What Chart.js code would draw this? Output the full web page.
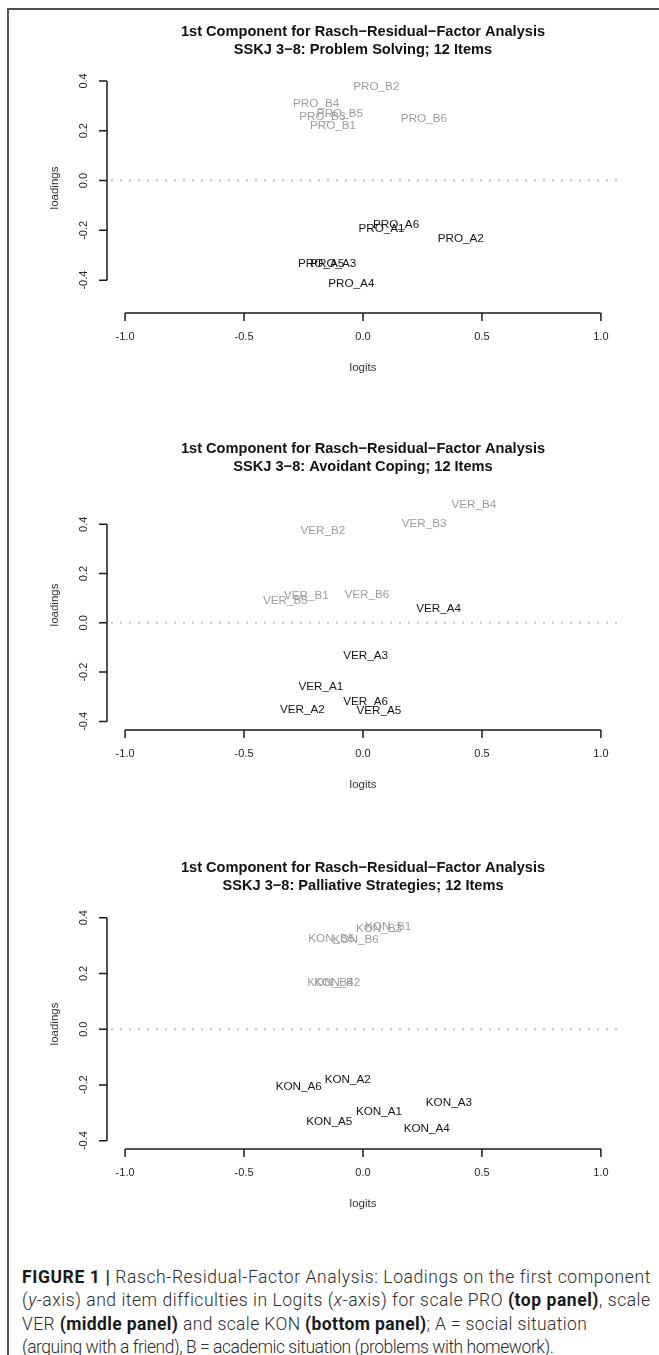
<!DOCTYPE html>
<html>
<head>
<meta charset="utf-8">
<script src="https://cdn.jsdelivr.net/npm/chart.js@4.4.0/dist/chart.umd.min.js"></script>
<style>
  body { margin: 0; background: #fff; }
  #pagina { position: relative; width: 659px; height: 1355px; overflow: hidden; background: #fff; }
  .marco-sup { position: absolute; left: 7px; top: 8px; width: 652px; height: 2px; background: #4d4d4d; }
  .marco-izq { position: absolute; left: 7px; top: 8px; width: 2px; height: 1347px; background: #555; }
  .panel { position: absolute; left: 0; width: 659px; height: 418px; }
  #leyenda {
    position: absolute; left: 22px; top: 1266px; white-space: nowrap;
    font-family: Roboto, "Liberation Sans", sans-serif; font-weight: 300;
    font-size: 17.5px; line-height: 23.3px; color: #2b2b2b;
  }
  #leyenda b { font-weight: 700; color: #1a1a1a; }
  .l1 { letter-spacing: 0.6px; }
  .l2 { letter-spacing: 0.54px; }
  .l3 { letter-spacing: 0.38px; }
  .l4 { letter-spacing: -0.45px; }
</style>
</head>
<body>
<div id="pagina">
  <div class="marco-sup"></div>
  <div class="marco-izq"></div>
  <div class="panel" style="top:0px"><canvas id="graficoPro" width="659" height="418"></canvas></div>
  <div class="panel" style="top:417px"><canvas id="graficoVer" width="659" height="418"></canvas></div>
  <div class="panel" style="top:836px"><canvas id="graficoKon" width="659" height="418"></canvas></div>
  <div id="leyenda">
    <div class="l1"><b>FIGURE 1 |</b> Rasch-Residual-Factor Analysis: Loadings on the first component</div>
    <div class="l2">(<i>y</i>-axis) and item difficulties in Logits (<i>x</i>-axis) for scale PRO <b>(top panel)</b>, scale</div>
    <div class="l3">VER <b>(middle panel)</b> and scale KON <b>(bottom panel)</b>; A = social situation</div>
    <div class="l4">(arguing with a friend), B = academic situation (problems with homework).</div>
  </div>
</div>

<script>
// ---- Datos ----
// PRO: Problem Solving
const proItemsA = ['PRO_A1', 'PRO_A2', 'PRO_A3', 'PRO_A4', 'PRO_A5', 'PRO_A6'];
const proLogitsA = [0.078, 0.411, -0.125, -0.049, -0.176, 0.139];
const proLoadingsA = [-0.194, -0.234, -0.335, -0.414, -0.335, -0.178];
const proItemsB = ['PRO_B1', 'PRO_B2', 'PRO_B3', 'PRO_B4', 'PRO_B5', 'PRO_B6'];
const proLogitsB = [-0.126, 0.056, -0.171, -0.197, -0.097, 0.256];
const proLoadingsB = [0.218, 0.375, 0.257, 0.308, 0.268, 0.248];

// VER: Avoidant Coping
const verItemsA = ['VER_A1', 'VER_A2', 'VER_A3', 'VER_A4', 'VER_A5', 'VER_A6'];
const verLogitsA = [-0.177, -0.255, 0.011, 0.318, 0.067, 0.011];
const verLoadingsA = [-0.260, -0.351, -0.135, 0.058, -0.355, -0.321];
const verItemsB = ['VER_B1', 'VER_B2', 'VER_B3', 'VER_B4', 'VER_B5', 'VER_B6'];
const verLogitsB = [-0.238, -0.169, 0.257, 0.466, -0.326, 0.016];
const verLoadingsB = [0.108, 0.373, 0.401, 0.478, 0.089, 0.114];

// KON: Palliative Strategies
const konItemsA = ['KON_A1', 'KON_A2', 'KON_A3', 'KON_A4', 'KON_A5', 'KON_A6'];
const konLogitsA = [0.067, -0.064, 0.361, 0.268, -0.142, -0.270];
const konLoadingsA = [-0.295, -0.181, -0.265, -0.358, -0.334, -0.205];
const konItemsB = ['KON_B1', 'KON_B2', 'KON_B3', 'KON_B4', 'KON_B5', 'KON_B6'];
const konLogitsB = [0.106, -0.108, 0.067, -0.137, -0.133, -0.031];
const konLoadingsB = [0.366, 0.165, 0.359, 0.165, 0.325, 0.319];

// marcas de los ejes
const xTicks = [-1.0, -0.5, 0.0, 0.5, 1.0];
const yTicks = [-0.4, -0.2, 0.0, 0.2, 0.4];

const tituloLinea1 = '1st Component for Rasch\u2212Residual\u2212Factor Analysis';
const subtitulos = [
  'SSKJ 3\u22128: Problem Solving; 12 Items',
  'SSKJ 3\u22128: Avoidant Coping; 12 Items',
  'SSKJ 3\u22128: Palliative Strategies; 12 Items'
];

const fuente = '"Liberation Sans", Arial, Helvetica, sans-serif';

// Plugin que dibuja los ejes al estilo de R, la linea punteada en 0 y las etiquetas de los items
const ejesEstiloR = {
  id: 'ejesEstiloR',
  beforeDatasetsDraw(chart) {
    const { ctx, chartArea, scales: { y } } = chart;
    const y0 = y.getPixelForValue(0);
    ctx.save();
    ctx.strokeStyle = '#c4c4c4';
    ctx.lineWidth = 2;
    ctx.setLineDash([2, 7]);
    ctx.beginPath();
    ctx.moveTo(chartArea.left + 4, y0);
    ctx.lineTo(chartArea.right, y0);
    ctx.stroke();
    ctx.restore();
  },
  afterDatasetsDraw(chart) {
    const { ctx } = chart;
    ctx.save();
    ctx.font = '11.7px ' + fuente;
    ctx.textAlign = 'center';
    ctx.textBaseline = 'middle';
    chart.data.datasets.forEach((ds, i) => {
      const meta = chart.getDatasetMeta(i);
      ctx.fillStyle = ds.colorTexto;
      meta.data.forEach((punto, j) => {
        ctx.fillText(ds.etiquetas[j], punto.x, punto.y);
      });
    });
    ctx.restore();
  },
  afterDraw(chart) {
    const { ctx, chartArea, scales: { x, y } } = chart;
    const opts = chart.options.plugins.ejesEstiloR;
    ctx.save();
    ctx.strokeStyle = '#1a1a1a';
    ctx.lineWidth = 1.5;
    ctx.setLineDash([]);

    // eje y (solo entre la primera y la ultima marca)
    const yTop = y.getPixelForValue(yTicks[yTicks.length - 1]);
    const yBot = y.getPixelForValue(yTicks[0]);
    ctx.beginPath();
    ctx.moveTo(chartArea.left, yTop);
    ctx.lineTo(chartArea.left, yBot);
    yTicks.forEach(v => {
      const py = y.getPixelForValue(v);
      ctx.moveTo(chartArea.left, py);
      ctx.lineTo(chartArea.left - 8, py);
    });
    ctx.stroke();

    // eje x
    const xIzq = x.getPixelForValue(xTicks[0]);
    const xDer = x.getPixelForValue(xTicks[xTicks.length - 1]);
    ctx.beginPath();
    ctx.moveTo(xIzq, chartArea.bottom);
    ctx.lineTo(xDer, chartArea.bottom);
    xTicks.forEach(v => {
      const px = x.getPixelForValue(v);
      ctx.moveTo(px, chartArea.bottom);
      ctx.lineTo(px, chartArea.bottom + 8);
    });
    ctx.stroke();

    // etiquetas de las marcas
    ctx.fillStyle = '#262626';
    ctx.font = '11px ' + fuente;
    ctx.textAlign = 'center';
    ctx.textBaseline = 'middle';
    xTicks.forEach(v => {
      ctx.fillText(v.toFixed(1), x.getPixelForValue(v), chartArea.bottom + 24);
    });
    yTicks.forEach(v => {
      ctx.save();
      ctx.translate(chartArea.left - 23, y.getPixelForValue(v));
      ctx.rotate(-Math.PI / 2);
      ctx.fillText(v.toFixed(1), 0, 0);
      ctx.restore();
    });

    // titulos de los ejes
    ctx.fillStyle = '#333';
    ctx.font = '11.5px ' + fuente;
    ctx.fillText('logits', (chartArea.left + chartArea.right) / 2, chartArea.bottom + 55);
    ctx.save();
    ctx.translate(chartArea.left - 52, (chartArea.top + chartArea.bottom) / 2);
    ctx.rotate(-Math.PI / 2);
    ctx.fillText('loadings', 0, 0);
    ctx.restore();

    // titulo principal (dos lineas)
    ctx.fillStyle = '#111';
    ctx.font = 'bold 14.6px ' + fuente;
    const cx = (chartArea.left + chartArea.right) / 2;
    ctx.fillText(tituloLinea1, cx, chartArea.top - 31);
    ctx.fillText(opts.subtitulo, cx, chartArea.top - 13);
    ctx.restore();
  }
};

function armarPuntos(xs, ys) {
  return xs.map((v, i) => ({ x: v, y: ys[i] }));
}

function crearGrafico(idCanvas, datosA, datosB, subtitulo, yMin, yMax) {
  const ctx = document.getElementById(idCanvas);
  return new Chart(ctx, {
    type: 'scatter',
    data: {
      datasets: [
        {
          label: 'A',
          data: armarPuntos(datosA.logits, datosA.loadings),
          etiquetas: datosA.items,
          colorTexto: '#141414',
          pointRadius: 0,
          pointHoverRadius: 0
        },
        {
          label: 'B',
          data: armarPuntos(datosB.logits, datosB.loadings),
          etiquetas: datosB.items,
          colorTexto: '#9c9c9c',
          pointRadius: 0,
          pointHoverRadius: 0
        }
      ]
    },
    options: {
      responsive: false,
      animation: false,
      devicePixelRatio: 1,
      layout: { padding: { left: 107, right: 40, top: 63, bottom: 105 } },
      plugins: {
        legend: { display: false },
        title: { display: false },
        tooltip: { enabled: false },
        ejesEstiloR: { subtitulo: subtitulo }
      },
      scales: {
        x: { type: 'linear', display: false, min: -1.076, max: 1.076 },
        y: { type: 'linear', display: false, min: yMin, max: yMax }
      }
    },
    plugins: [ejesEstiloR]
  });
}

crearGrafico('graficoPro',
  { items: proItemsA, logits: proLogitsA, loadings: proLoadingsA },
  { items: proItemsB, logits: proLogitsB, loadings: proLoadingsB },
  subtitulos[0], -0.532, 0.472);

crearGrafico('graficoVer',
  { items: verItemsA, logits: verLogitsA, loadings: verLoadingsA },
  { items: verItemsB, logits: verLogitsB, loadings: verLoadingsB },
  subtitulos[1], -0.435, 0.58);

crearGrafico('graficoKon',
  { items: konItemsA, logits: konLogitsA, loadings: konLoadingsA },
  { items: konItemsB, logits: konLogitsB, loadings: konLoadingsB },
  subtitulos[2], -0.430, 0.467);
</script>
</body>
</html>
